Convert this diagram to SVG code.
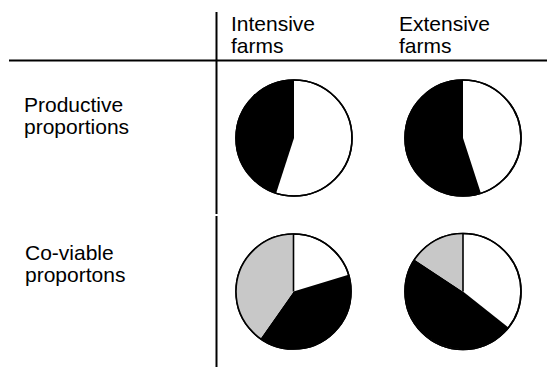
<svg xmlns="http://www.w3.org/2000/svg" width="547" height="367" viewBox="0 0 547 367">
<style>
text{font-family:"Liberation Sans",Arial,sans-serif;font-size:21px;fill:#000}
.rule{stroke:#000;stroke-width:2;fill:none}
.rim{fill:#fff;stroke:#000;stroke-width:1.6}
.blk{fill:#000}
.gry{fill:#c8c8c8}
.div{stroke:#000;stroke-width:1.6}
</style>
<rect width="547" height="367" fill="#fff"/>
<g id="grid">
<line class="rule" x1="9" y1="60.5" x2="547" y2="60.5"/>
<line class="rule" x1="216.5" y1="12" x2="216.5" y2="214"/>
<line class="rule" x1="216.5" y1="216" x2="216.5" y2="367"/>
</g>
<g id="header-intensive"><text x="231" y="31">Intensive</text><text x="231" y="53">farms</text></g>
<g id="header-extensive"><text x="399" y="31">Extensive</text><text x="399" y="53">farms</text></g>
<g id="row-productive"><text x="24" y="112">Productive</text><text x="24" y="134">proportions</text></g>
<g id="row-coviable"><text x="25" y="260">Co-viable</text><text x="25" y="282">proportons</text></g>
<g id="pie-intensive-productive">
<circle class="rim" cx="294" cy="138" r="58"/>
<path class="blk" d="M294,138 L294,80 A58,58 0 0 0 276.1,193.2 Z"/>
<circle cx="294" cy="138" r="58" fill="none" stroke="#000" stroke-width="1.6"/>
</g>
<g id="pie-extensive-productive">
<circle class="rim" cx="463" cy="138" r="58"/>
<path class="blk" d="M463,138 L463,80 A58,58 0 1 0 480.9,193.2 Z"/>
<circle cx="463" cy="138" r="58" fill="none" stroke="#000" stroke-width="1.6"/>
</g>
<g id="pie-intensive-coviable">
<circle class="rim" cx="293.5" cy="291.5" r="57.5"/>
<path class="blk" d="M293.5,291.5 L348.5,274.7 A57.5,57.5 0 0 1 260.5,338.6 Z"/>
<path class="gry" d="M293.5,291.5 L260.5,338.6 A57.5,57.5 0 0 1 293.5,234 Z"/>
<circle cx="293.5" cy="291.5" r="57.5" fill="none" stroke="#000" stroke-width="1.6"/>
<line class="div" x1="293.5" y1="291.5" x2="293.5" y2="234"/>
</g>
<g id="pie-extensive-coviable">
<circle class="rim" cx="463" cy="291.5" r="58"/>
<path class="blk" d="M463,291.5 L508.4,327.6 A58,58 0 0 1 414.6,259.6 Z"/>
<path class="gry" d="M463,291.5 L414.6,259.6 A58,58 0 0 1 463,233.5 Z"/>
<circle cx="463" cy="291.5" r="58" fill="none" stroke="#000" stroke-width="1.6"/>
<line class="div" x1="463" y1="291.5" x2="463" y2="233.5"/>
</g>
</svg>
